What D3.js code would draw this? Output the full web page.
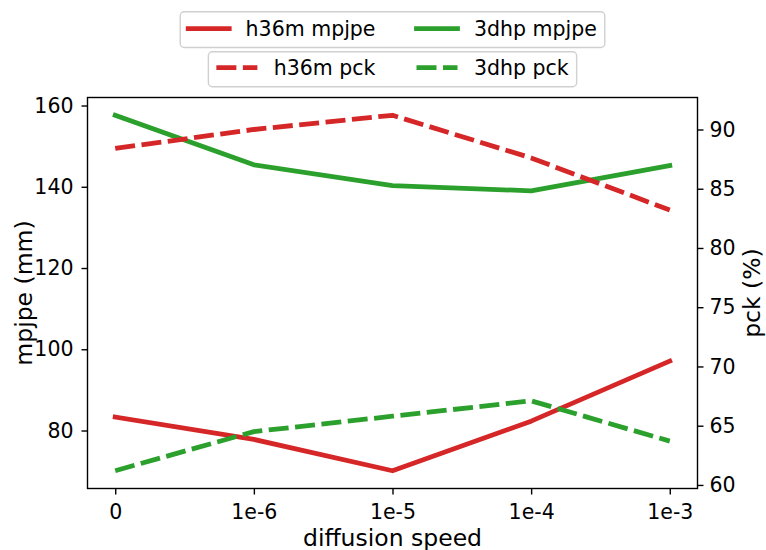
<!DOCTYPE html>
<html>
<head>
<meta charset="utf-8">
<script src="https://cdn.jsdelivr.net/npm/d3@7"></script>
<style>
  html, body { margin: 0; padding: 0; background: #fff; }
  svg text { font-family: "DejaVu Sans", sans-serif; fill: #000; }
</style>
</head>
<body>
<svg id="chart" width="766" height="550"></svg>
<script>
// ---- data ----
const categories = ["0", "1e-6", "1e-5", "1e-4", "1e-3"];
const h36mMpjpe = [83.3, 77.8, 70.1, 82.3, 97.1];
const dhpMpjpe  = [157.6, 145.4, 140.3, 139.0, 145.2];
const h36mPck   = [88.4, 90.0, 91.2, 87.6, 83.2];
const dhpPck    = [61.2, 64.5, 65.8, 67.1, 63.7];
const leftTicks  = [80, 100, 120, 140, 160];
const rightTicks = [60, 65, 70, 75, 80, 85, 90];
const seriesNames = ["h36m mpjpe", "3dhp mpjpe", "h36m pck", "3dhp pck"];
const xLabel = "diffusion speed";
const leftLabel = "mpjpe (mm)";
const rightLabel = "pck (%)";

// ---- layout ----
const RED = "#d62728", GREEN = "#2ca02c";
const plot = { left: 87.5, right: 697.5, top: 97.5, bottom: 488.5 };
const LW = 4.8;
const DASH = "20,6.5";
const tickFont = 20.5, labelFont = 23.5;

const svg = d3.select("#chart");

function padded(vals) {
  const [lo, hi] = d3.extent(vals);
  const m = (hi - lo) * 0.05;
  return [lo - m, hi + m];
}

const idx = categories.map((d, i) => i);
const x = d3.scaleLinear().domain(padded(idx)).range([plot.left, plot.right]);
const yL = d3.scaleLinear().domain(padded(h36mMpjpe.concat(dhpMpjpe))).range([plot.bottom, plot.top]);
const yR = d3.scaleLinear().domain(padded(h36mPck.concat(dhpPck))).range([plot.bottom, plot.top]);

// clip
svg.append("defs").append("clipPath").attr("id", "clip")
  .append("rect").attr("x", plot.left).attr("y", plot.top)
  .attr("width", plot.right - plot.left).attr("height", plot.bottom - plot.top);

const lineL = d3.line().x((d, i) => x(i)).y(d => yL(d));
const lineR = d3.line().x((d, i) => x(i)).y(d => yR(d));

const g = svg.append("g").attr("clip-path", "url(#clip)");
function drawLine(data, gen, color, dashed) {
  const p = g.append("path").datum(data)
    .attr("d", gen)
    .attr("fill", "none")
    .attr("stroke", color)
    .attr("stroke-width", LW)
    .attr("stroke-linejoin", "round");
  if (dashed) p.attr("stroke-dasharray", DASH).attr("stroke-linecap", "butt");
  else p.attr("stroke-linecap", "square");
}
drawLine(h36mMpjpe, lineL, RED, false);
drawLine(dhpMpjpe, lineL, GREEN, false);
drawLine(h36mPck, lineR, RED, true);
drawLine(dhpPck, lineR, GREEN, true);

// axes
function styleAxis(sel) {
  sel.select(".domain").remove();
  sel.selectAll(".tick line").attr("stroke", "#000").attr("stroke-width", 1.4);
  sel.selectAll(".tick text").attr("font-size", tickFont).attr("font-family", "DejaVu Sans");
}
const xAxis = svg.append("g").attr("transform", `translate(0,${plot.bottom})`)
  .call(d3.axisBottom(x).tickValues(idx).tickFormat(i => categories[i]).tickSize(6).tickPadding(13));
styleAxis(xAxis);
xAxis.selectAll(".tick text").attr("dy", "0").attr("y", 30.5);

const lAxis = svg.append("g").attr("transform", `translate(${plot.left},0)`)
  .call(d3.axisLeft(yL).tickValues(leftTicks).tickSize(6).tickPadding(8));
styleAxis(lAxis);

const rAxis = svg.append("g").attr("transform", `translate(${plot.right},0)`)
  .call(d3.axisRight(yR).tickValues(rightTicks).tickSize(6).tickPadding(6));
styleAxis(rAxis);

// spines
svg.append("rect")
  .attr("x", plot.left).attr("y", plot.top)
  .attr("width", plot.right - plot.left).attr("height", plot.bottom - plot.top)
  .attr("fill", "none").attr("stroke", "#000").attr("stroke-width", 1.4);

// axis labels
svg.append("text").text(xLabel)
  .attr("x", (plot.left + plot.right) / 2).attr("y", 545.5)
  .attr("text-anchor", "middle").attr("font-size", labelFont);
svg.append("text").text(leftLabel)
  .attr("transform", `translate(31.5,${(plot.top + plot.bottom) / 2}) rotate(-90)`)
  .attr("text-anchor", "middle").attr("font-size", labelFont);
svg.append("text").text(rightLabel)
  .attr("transform", `translate(760,${(plot.top + plot.bottom) / 2}) rotate(-90)`)
  .attr("text-anchor", "middle").attr("font-size", labelFont);

// legends
const legendRows = [
  { items: [{ name: seriesNames[0], color: RED, dashed: false }, { name: seriesNames[1], color: GREEN, dashed: false }], top: 11.7, height: 35.8, lineY: 28.6, baseY: 35.7 },
  { items: [{ name: seriesNames[2], color: RED, dashed: true }, { name: seriesNames[3], color: GREEN, dashed: true }], top: 51.7, height: 35.0, lineY: 67.6, baseY: 74.6 }
];
const pad = 8, handleLen = 41, textPad = 16.4, colSpace = 41;
const cx = (plot.left + plot.right) / 2;
legendRows.forEach(row => {
  const lg = svg.append("g");
  const box = lg.append("rect");
  const widths = row.items.map(it => {
    const t = lg.append("text").text(it.name).attr("font-size", tickFont);
    const w = t.node().getComputedTextLength();
    t.remove();
    return w;
  });
  const total = pad * 2 + row.items.length * (handleLen + textPad) + d3.sum(widths) + colSpace * (row.items.length - 1);
  let xx = cx - total / 2;
  box.attr("x", xx).attr("y", row.top).attr("width", total).attr("height", row.height)
    .attr("rx", 4).attr("fill", "#fff").attr("fill-opacity", 0.8)
    .attr("stroke", "#d0d0d0").attr("stroke-width", 1.4);
  xx += pad;
  row.items.forEach((it, i) => {
    const ln = lg.append("line")
      .attr("x1", xx).attr("x2", xx + handleLen)
      .attr("y1", row.lineY).attr("y2", row.lineY)
      .attr("stroke", it.color).attr("stroke-width", LW);
    if (it.dashed) ln.attr("stroke-dasharray", DASH).attr("stroke-linecap", "butt");
    else ln.attr("stroke-linecap", "square");
    xx += handleLen + textPad;
    lg.append("text").text(it.name).attr("x", xx).attr("y", row.baseY).attr("font-size", tickFont);
    xx += widths[i] + colSpace;
  });
});
</script>
</body>
</html>
